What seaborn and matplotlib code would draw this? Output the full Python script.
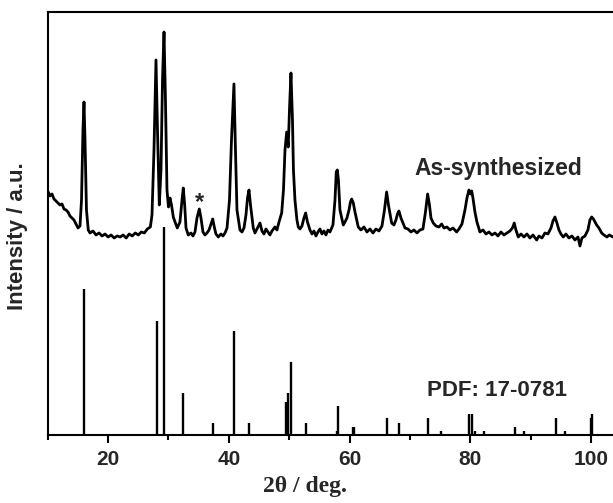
import matplotlib
matplotlib.use("Agg")
import matplotlib.pyplot as plt
import seaborn as sns
import pandas as pd
from matplotlib.ticker import MultipleLocator

# ---- measured pattern (2theta in deg, intensity in a.u.) ----
two_theta = [10.10, 10.38, 10.71, 11.04, 11.37, 11.71, 12.04, 12.37, 12.70, 13.03, 13.36, 13.69,
             14.02, 14.35, 14.69, 15.02, 15.35, 15.60, 15.84, 16.01, 16.18, 16.42, 16.72, 17.00,
             17.5, 18.0, 18.5, 19.0, 19.5, 20.0, 20.5, 21.0, 21.5, 22.0, 22.5, 23.0, 23.5, 24.0,
             24.5, 25.0, 25.5, 26.0, 26.5, 27.0, 27.27, 27.60, 27.93, 28.18, 28.48, 28.76, 29.01,
             29.26, 29.50, 29.75, 30.00, 30.25, 30.50, 30.80, 31.08, 31.46, 31.90, 32.24, 32.45,
             32.68, 32.90, 33.28, 33.73, 34.06, 34.39, 34.72, 35.10, 35.38, 35.71, 36.04, 36.37,
             36.71, 37.04, 37.32, 37.62, 37.86, 38.25, 38.69, 39.02, 39.36, 39.69, 40.10, 40.43,
             40.84, 41.09, 41.34, 41.84, 42.17, 42.50, 42.83, 43.08, 43.33, 43.58, 44.04, 44.32,
             44.65, 45.15, 45.48, 45.81, 46.14, 46.47, 46.80, 47.14, 47.63, 47.96, 48.30, 48.74,
             49.04, 49.29, 49.57, 49.83, 50.03, 50.28, 50.53, 50.69, 50.94, 51.27, 51.49, 51.77,
             52.10, 52.43, 52.71, 53.01, 53.43, 53.76, 54.09, 54.42, 54.75, 55.08, 55.41, 55.74,
             56.07, 56.41, 56.74, 57.23, 57.57, 57.78, 57.95, 58.14, 58.39, 58.94, 59.22, 59.55,
             59.89, 60.13, 60.33, 60.60, 60.88, 61.42, 61.87, 62.37, 62.86, 63.36, 63.86, 64.35,
             64.85, 65.35, 65.76, 66.12, 66.42, 66.95, 67.33, 67.66, 67.91, 68.16, 68.49, 69.16,
             69.65, 70.15, 70.64, 71.14, 71.64, 72.13, 72.55, 72.91, 73.21, 73.46, 73.84, 74.29,
             74.79, 75.23, 75.61, 76.11, 76.61, 77.10, 77.71, 78.10, 78.59, 79.09, 79.42, 79.75,
             80.00, 80.20, 80.41, 80.74, 81.07, 81.57, 82.07, 82.57, 83.06, 83.56, 84.06, 84.55,
             85.05, 85.55, 86.04, 86.54, 86.95, 87.25, 87.53, 87.91, 88.36, 88.86, 89.35, 89.85,
             90.35, 90.96, 91.34, 91.84, 92.33, 92.83, 93.33, 93.66, 93.99, 94.32, 94.65, 94.98,
             95.36, 95.81, 96.31, 96.80, 97.30, 97.80, 98.13, 98.46, 98.96, 99.45, 99.78, 100.07,
             100.36, 100.89, 101.27, 101.72, 102.10, 102.60, 102.99, 103.59]
intensity = [243, 239, 241, 236, 234, 232, 230, 231, 226, 225, 223, 219,
             217, 215, 211, 207, 209, 235, 305, 333, 295, 225, 205, 202,
             204, 200, 202, 199, 201, 198, 200, 197, 199, 198, 200, 197, 201, 199,
             202, 200, 203, 202, 206, 208, 220, 285, 375, 305, 230, 265, 355,
             403, 335, 245, 228, 237, 230, 218, 213, 207, 213, 235, 247,
             230, 207, 200, 202, 199, 203, 217, 226, 217, 203, 200, 202,
             205, 211, 216, 207, 201, 198, 201, 199, 202, 207, 235, 295,
             351, 285, 225, 205, 203, 207, 220, 237, 245, 230, 207, 202,
             206, 212, 204, 201, 206, 203, 200, 204, 208, 205, 213, 222,
             245, 285, 303, 288, 325, 362, 315, 265, 235, 215, 208, 206,
             209, 217, 222, 213, 205, 201, 204, 199, 203, 206, 201, 204,
             200, 205, 203, 210, 235, 263, 265, 255, 225, 210, 213, 217,
             225, 233, 236, 232, 223, 208, 205, 208, 203, 206, 202, 206,
             204, 209, 225, 243, 230, 212, 210, 215, 221, 224, 217, 207,
             206, 203, 205, 202, 205, 206, 223, 241, 230, 217, 212, 209,
             208, 211, 207, 208, 205, 207, 203, 206, 211, 225, 237, 245,
             241, 244, 237, 223, 213, 203, 205, 201, 203, 200, 202, 199,
             203, 200, 202, 204, 207, 212, 205, 198, 201, 198, 201, 197,
             200, 195, 199, 197, 202, 201, 207, 214, 218, 212, 205, 201,
             198, 201, 197, 199, 195, 198, 189, 197, 199, 205, 215, 218,
             216, 210, 207, 202, 200, 198, 200, 198]

# ---- reference card PDF 17-0781 (2theta, relative intensity I/I0) ----
pdf_pos = [16.06, 28.05, 29.26, 32.45, 37.42, 40.93, 43.38, 49.45, 49.78, 50.28, 52.77,
           57.95, 58.11, 60.50, 60.70, 66.17, 68.16, 72.96, 75.12, 79.70, 80.20, 80.74,
           82.23, 87.42, 88.91, 94.15, 95.59, 99.95, 100.20]
pdf_int = [70, 55, 100, 20, 6, 50, 6, 16, 20, 35, 6,
           2, 14, 4, 4, 8, 6, 8, 2, 10, 10, 2,
           2, 4, 2, 8, 2, 8, 10]

label_sample = "As-synthesized"
label_card = "PDF: 17-0781"
xlabel = "2θ / deg."
ylabel = "Intensity / a.u."

sns.set_style("white")
plt.rcParams['font.family'] = ['Liberation Sans', 'DejaVu Sans']

fig = plt.figure(figsize=(6.13, 5.03), dpi=100)
ax = fig.add_axes([0.0778, 0.1352, 0.9222, 0.8410])

df = pd.DataFrame({"two_theta": two_theta, "intensity": intensity})
sns.lineplot(data=df, x="two_theta", y="intensity", ax=ax, color="black",
             linewidth=2.0, sort=False, estimator=None)

stick_scale = 2.08
ax.vlines(pdf_pos, 0, [v * stick_scale for v in pdf_int], color="black", linewidth=1.7)

ax.set_xlim(10, 103.6)
ax.set_ylim(0, 423)

ax.xaxis.set_major_locator(MultipleLocator(20))
ax.xaxis.set_minor_locator(MultipleLocator(10))
ax.tick_params(axis="x", which="major", direction="out", length=6, width=1.5,
               labelsize=15, pad=5, bottom=True, color="black")
ax.tick_params(axis="x", which="minor", direction="out", length=3.5, width=1.5,
               bottom=True, color="black")
for lab in ax.get_xticklabels():
    lab.set_fontweight("bold")
ax.set_yticks([])

for side in ["left", "bottom", "top"]:
    ax.spines[side].set_visible(True)
    ax.spines[side].set_linewidth(1.5)
    ax.spines[side].set_color("black")
ax.spines["right"].set_visible(False)

ax.set_xlabel(xlabel, fontsize=17, fontweight="bold", family=["Liberation Serif", "DejaVu Serif"])
ax.xaxis.set_label_coords((305 - 47.7) / (613 - 47.7), -(476 - 435) / 423)
ax.set_ylabel(ylabel, fontsize=16, fontweight="bold")
ax.yaxis.set_label_coords(-(47.7 - 28) / (613 - 47.7), (435 - 236) / 423)

ax.text(70.8, 260, label_sample, fontsize=16.5, fontweight="bold", ha="left", va="baseline")
ax.text(72.8, 39, label_card, fontsize=16, fontweight="bold", ha="left", va="baseline")
ax.text(35.2, 226, "*", fontsize=17, fontweight="bold", ha="center", va="baseline")

fig.savefig("out.png", dpi=100)
